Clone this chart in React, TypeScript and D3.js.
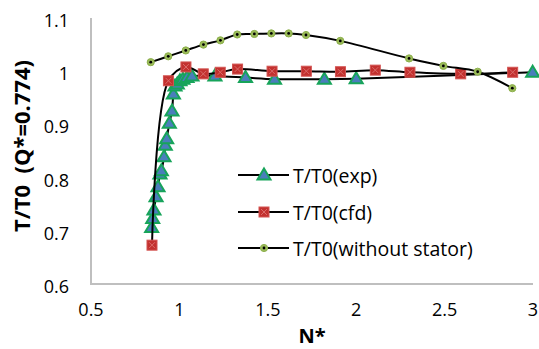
import React from "react";
import * as d3 from "d3";

const expX = [0.843, 0.849, 0.856, 0.868, 0.879, 0.890, 0.898, 0.913, 0.920, 0.928, 0.943, 0.958, 0.966, 0.975, 0.988, 1.003, 1.02, 1.043, 1.071, 1.201, 1.374, 1.538, 1.82, 2.0, 2.998];
const expY = [0.706, 0.723, 0.739, 0.764, 0.783, 0.807, 0.813, 0.839, 0.861, 0.873, 0.902, 0.925, 0.957, 0.972, 0.976, 0.982, 0.985, 0.988, 0.991, 0.991, 0.988, 0.985, 0.985, 0.986, 0.998];

const cfdX = [0.845, 0.938, 1.037, 1.135, 1.231, 1.329, 1.524, 1.718, 1.911, 2.108, 2.304, 2.591, 2.885];
const cfdY = [0.673, 0.982, 1.008, 0.995, 0.998, 1.004, 1.0, 1.0, 0.999, 1.002, 0.998, 0.995, 0.998];

const nsX = [0.838, 0.937, 1.036, 1.136, 1.232, 1.327, 1.424, 1.52, 1.618, 1.716, 1.91, 2.299, 2.493, 2.687, 2.883];
const nsY = [1.017, 1.028, 1.039, 1.050, 1.058, 1.069, 1.070, 1.071, 1.071, 1.068, 1.057, 1.024, 1.010, 0.999, 0.968];

const xTicks = [0.5, 1, 1.5, 2, 2.5, 3];
const yTicks = [0.6, 0.7, 0.8, 0.9, 1.0, 1.1];
const seriesNames = ["T/T0(exp)", "T/T0(cfd)", "T/T0(without stator)"];

const W = 539;
const H = 349;
const FONT = "'Open Sans', Lato, sans-serif";

function Triangle({ x, y }: { x: number; y: number }) {
  return (
    <path
      d={`M${x},${y - 6.5} L${x + 6.5},${y + 4.5} L${x - 6.5},${y + 4.5} Z`}
      fill="#4A7EBB"
      stroke="#17A45A"
      strokeWidth={2}
      strokeLinejoin="miter"
    />
  );
}

function Square({ x, y }: { x: number; y: number }) {
  const s = 5;
  return (
    <g>
      <rect x={x - s} y={y - s} width={2 * s} height={2 * s} fill="#C3312F" stroke="#D35452" strokeWidth={1} />
      <path d={`M${x - 3},${y - 3} L${x + 3},${y + 3} M${x + 3},${y - 3} L${x - 3},${y + 3}`} stroke="#E07A78" strokeWidth={1} opacity={0.8} />
    </g>
  );
}

function Dot({ x, y }: { x: number; y: number }) {
  return (
    <g>
      <circle cx={x} cy={y} r={3.6} fill="#9BBB59" stroke="#8DB04C" strokeWidth={1} />
      <circle cx={x} cy={y} r={1.4} fill="#000" />
    </g>
  );
}

export default function App() {
  const x = d3.scaleLinear().domain([0.5, 3]).range([91, 533]);
  const y = d3.scaleLinear().domain([0.6, 1.1]).range([284, 18]);

  const line = d3
    .line<[number, number]>()
    .x((d) => x(d[0]))
    .y((d) => y(d[1]))
    .curve(d3.curveCatmullRom.alpha(0.5));

  const exp = expX.map((v, i) => [v, expY[i]] as [number, number]);
  const cfd = cfdX.map((v, i) => [v, cfdY[i]] as [number, number]);
  const ns = nsX.map((v, i) => [v, nsY[i]] as [number, number]);

  const legendRows = [175, 212, 248];

  return (
    <svg width={W} height={H} style={{ position: "absolute", left: 0, top: 0, background: "#fff" }} fontFamily={FONT}>
      <rect width={W} height={H} fill="#fff" />
      {/* axes */}
      <line x1={91} x2={91} y1={y(1.1)} y2={y(0.6)} stroke="#BFBFBF" strokeWidth={2} />
      <line x1={90} x2={x(3)} y1={y(0.6)} y2={y(0.6)} stroke="#BFBFBF" strokeWidth={2} />

      {yTicks.map((t) => (
        <text key={t} x={69} y={y(t) + 2} textAnchor="end" dominantBaseline="central" fontSize={18} fill="#000">
          {String(+t.toFixed(1))}
        </text>
      ))}
      {xTicks.map((t) => (
        <text key={t} x={x(t)} y={309} textAnchor="middle" dominantBaseline="central" fontSize={18} fill="#000">
          {String(t)}
        </text>
      ))}

      <text x={312} y={343} textAnchor="middle" fontSize={20} fontWeight="bold">N*</text>
      <text
        transform={`translate(30,146) rotate(-90)`}
        textAnchor="middle"
        fontSize={22}
        fontWeight="bold"
        style={{ whiteSpace: "pre" }}
      >
        {"T/T0  (Q*=0.774)"}
      </text>

      {/* series */}
      <path d={line(exp) || ""} fill="none" stroke="#000" strokeWidth={2} />
      {exp.map((d, i) => <Triangle key={"e" + i} x={x(d[0])} y={y(d[1])} />)}
      <path d={line(cfd) || ""} fill="none" stroke="#000" strokeWidth={2} />
      {cfd.map((d, i) => <Square key={"c" + i} x={x(d[0])} y={y(d[1])} />)}
      <path d={line(ns) || ""} fill="none" stroke="#000" strokeWidth={2} />
      {ns.map((d, i) => <Dot key={"n" + i} x={x(d[0])} y={y(d[1])} />)}

      {/* legend */}
      {seriesNames.map((name, i) => (
        <g key={name}>
          <line x1={238} x2={289} y1={legendRows[i]} y2={legendRows[i]} stroke="#000" strokeWidth={2} />
          {i === 0 && <Triangle x={264} y={legendRows[i]} />}
          {i === 1 && <Square x={264} y={legendRows[i]} />}
          {i === 2 && <Dot x={264} y={legendRows[i]} />}
          <text x={293} y={legendRows[i]} dominantBaseline="central" fontSize={19.5}>{name}</text>
        </g>
      ))}
    </svg>
  );
}
